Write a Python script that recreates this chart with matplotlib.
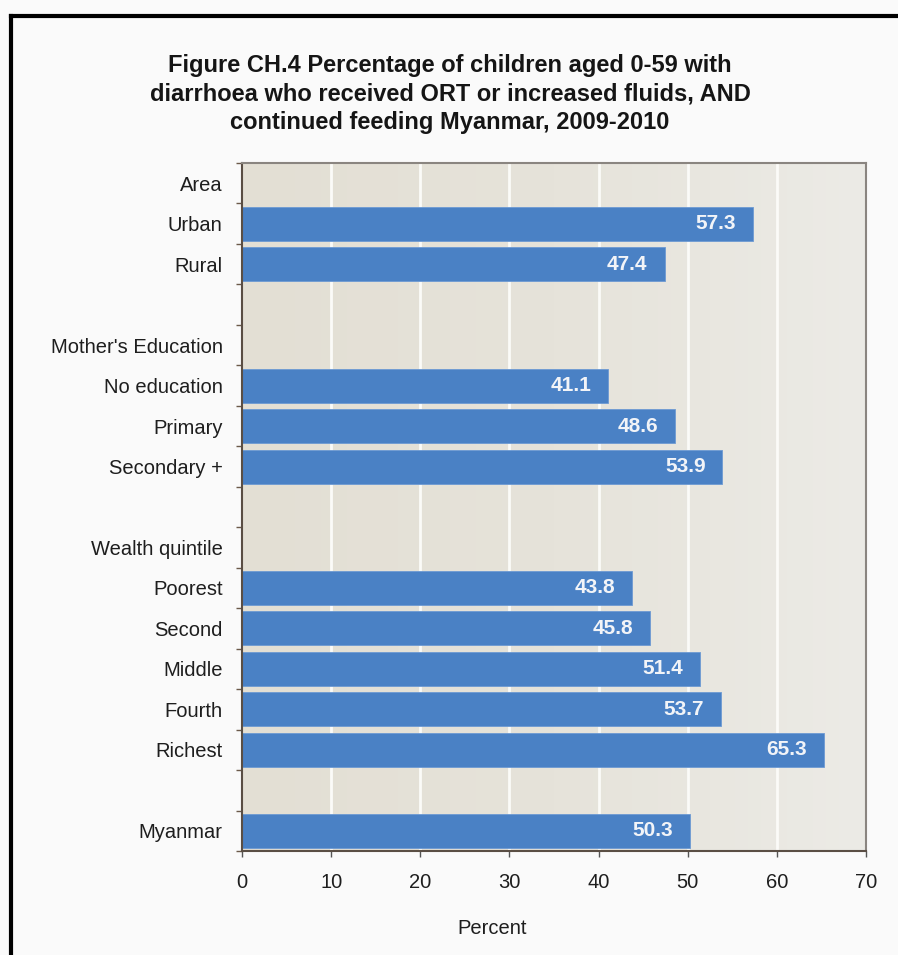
import matplotlib
matplotlib.use("Agg")
import matplotlib.pyplot as plt
import numpy as np
from matplotlib.lines import Line2D
from matplotlib.colors import LinearSegmentedColormap

plt.rcParams['font.family'] = ['Liberation Sans', 'DejaVu Sans']

categories = ["Area", "Urban", "Rural", "",
              "Mother's Education", "No education", "Primary", "Secondary +", "",
              "Wealth quintile", "Poorest", "Second", "Middle", "Fourth", "Richest", "",
              "Myanmar"]
values = [None, 57.3, 47.4, None,
          None, 41.1, 48.6, 53.9, None,
          None, 43.8, 45.8, 51.4, 53.7, 65.3, None,
          50.3]
x_ticks = [0, 10, 20, 30, 40, 50, 60, 70]
title = ("Figure CH.4 Percentage of children aged 0-59 with\n"
         "diarrhoea who received ORT or increased fluids, AND\n"
         "continued feeding Myanmar, 2009-2010")
x_label = "Percent"

W, H = 898, 955
fig = plt.figure(figsize=(W/100, H/100), dpi=100, facecolor='#fafafa')
ax = fig.add_axes([242/W, 1-851/H, 624/W, 688/H])

n = len(categories)
ypos = np.arange(n)

# background gradient
grad = np.linspace(0, 1, 256).reshape(1, -1)
cmap = LinearSegmentedColormap.from_list('bg', ['#e3dfd4', '#e6e3da', '#ecebe6'])
ax.imshow(grad, cmap=cmap, aspect='auto', extent=[0, 70, n-0.5, -0.5], zorder=0)

for xv in x_ticks[1:-1]:
    ax.axvline(xv, color='#fbfbf8', lw=2, zorder=1)

bar_color = '#4a81c5'
for y, v in zip(ypos, values):
    if v is None:
        continue
    ax.barh(y, v, height=0.84, color=bar_color, edgecolor='#6d9ad3', linewidth=0.6, zorder=2)
    ax.text(v - 1.9, y, f"{v:.1f}", ha='right', va='center', color='#f2f4f8',
            fontsize=15, fontweight='bold', zorder=3)

fs = 14.5
ax.set_xlim(0, 70)
ax.set_ylim(n-0.5, -0.5)
ax.set_xticks(x_ticks)
ax.set_xticklabels([str(t) for t in x_ticks], fontsize=fs, color='#1e1e1e')
ax.set_yticks(ypos)
ax.set_yticklabels(categories, fontsize=fs, color='#1e1e1e')
ax.tick_params(axis='y', length=0, pad=14)
ax.tick_params(axis='x', length=4, width=1, color='#555555', pad=12)
ax.set_yticks(np.arange(-0.5, n, 1), minor=True)
ax.tick_params(axis='y', which='minor', length=4, width=1, color='#6b5a4a')

for s in ['left', 'bottom']:
    ax.spines[s].set_color('#5a4e44')
    ax.spines[s].set_linewidth(1.5)
for s in ['top', 'right']:
    ax.spines[s].set_color('#8a8580')
    ax.spines[s].set_linewidth(1.5)

ax.set_xlabel(x_label, fontsize=fs, color='#1e1e1e')
ax.xaxis.set_label_coords((492-242)/624, -(928-851)/688)
ax.xaxis.label.set_va('center')

fig.text((148+752)/2/W, 1-94/H, title, ha='center', va='center', fontsize=17,
         fontweight='bold', color='#151515', linespacing=1.32)

# outer black border (left and top)
fig.add_artist(Line2D([11/W, 11/W], [0, 1-16/H], transform=fig.transFigure, color='black', lw=3))
fig.add_artist(Line2D([11/W, 1], [1-16/H, 1-16/H], transform=fig.transFigure, color='black', lw=3))

fig.savefig('out.png', dpi=100, facecolor=fig.get_facecolor())
